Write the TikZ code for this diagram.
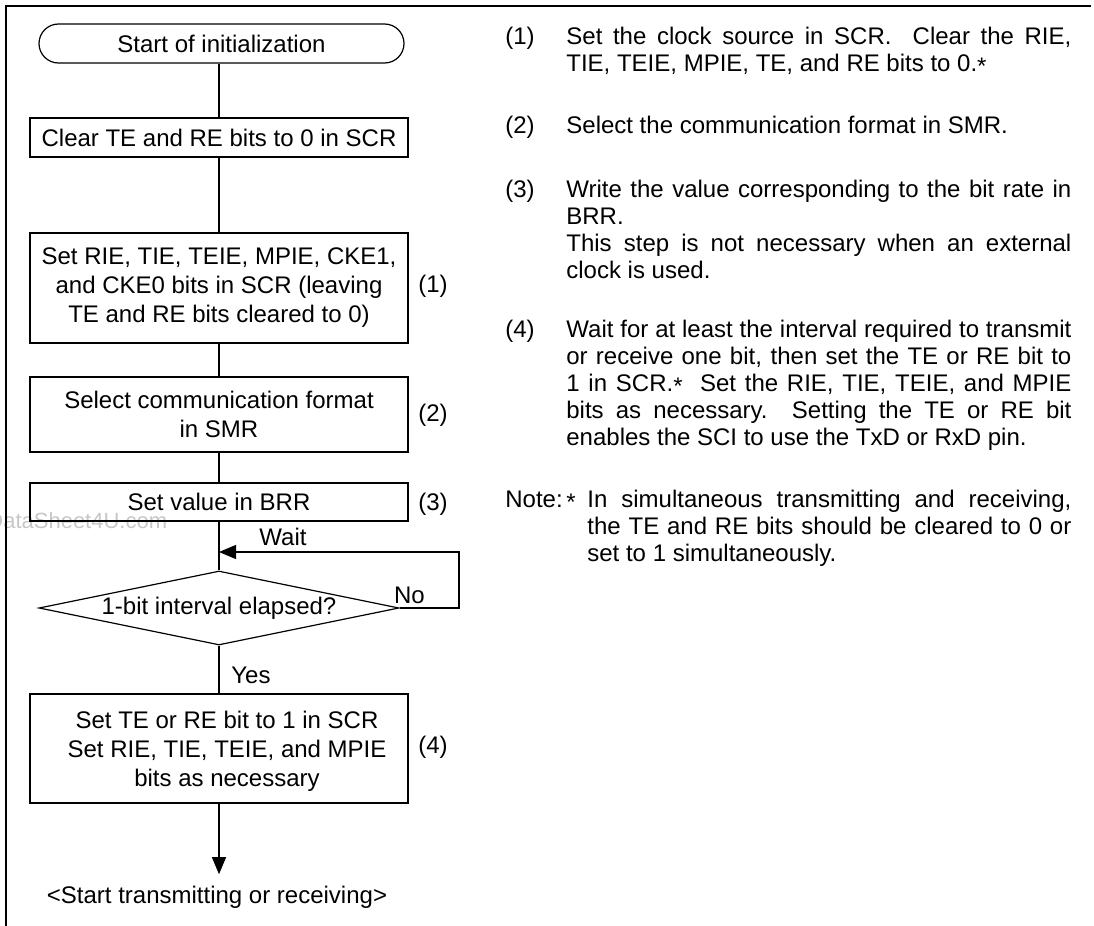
\documentclass[tikz,border=0pt]{standalone}
\usepackage{fontspec}
\setmainfont{Liberation Sans}
\usetikzlibrary{arrows.meta,shapes.geometric,shapes.misc}
\newcommand\fnast{\raisebox{-1.5pt}{*}}
\begin{document}
\begin{tikzpicture}[x=0.5pt,y=-0.5pt,
  every node/.style={font=\fontsize{12pt}{14.5pt}\selectfont},
  conn/.style={line width=0.6pt},
  arr/.style={line width=0.6pt,-{Triangle[length=8.5pt,width=7pt]}},
  stepbox/.style={draw,line width=0.6pt,minimum width=189pt,inner sep=0pt,align=center},
  startbox/.style={draw,line width=0.6pt,rounded rectangle,minimum width=182.5pt,minimum height=19.5pt,inner sep=0pt},
  decbox/.style={draw,line width=0.6pt,diamond,aspect=4.86,minimum width=180pt,minimum height=37pt,inner sep=0pt},
  numlbl/.style={inner sep=0pt},
  para/.style={inner sep=0pt,align=justify,anchor=north west,font=\fontsize{12pt}{13.5pt}\selectfont}
]
\useasboundingbox (0,0) rectangle (1094,926);
% watermark
\node[text=black!22,anchor=base west,inner sep=0pt,font=\fontsize{11pt}{13pt}\selectfont] (wm) at (-13,528) {DataSheet4U.com};
% frame
\draw[line width=1pt] (1091,6) -- (6,6) -- (6,926);

% flowchart
\node[startbox] (start) at (221.5,43.5) {Start of initialization};
\node[stepbox,minimum height=19.5pt] (clear) at (219,137.5) {Clear TE and RE bits to 0 in SCR};
\node[stepbox,minimum height=55pt] (setrie) at (219,288) {Set RIE, TIE, TEIE, MPIE, CKE1,\\and CKE0 bits in SCR (leaving\\TE and RE bits cleared to 0)};
\node[numlbl] (l1) at (433,286) {(1)};
\node[stepbox,minimum height=37.5pt] (select) at (219,414.5) {Select communication format\\in SMR};
\node[numlbl] (l2) at (433,415) {(2)};
\node[stepbox,minimum height=19pt] (brr) at (219,502) {Set value in BRR};
\node[numlbl] (l3) at (433,504) {(3)};
\node[decbox] (dec) at (219,608) {1-bit interval elapsed?};
\node[stepbox,minimum height=54.5pt] (last) at (219,748.5) {};
\node[inner sep=0pt,align=center] (lasttxt) at (227,751) {Set TE or RE bit to 1 in SCR\\Set RIE, TIE, TEIE, and MPIE\\bits as necessary};
\node[numlbl] (l4) at (433,747) {(4)};
\node[anchor=base,inner xsep=0pt,inner ysep=5.5pt] (endtxt) at (217,903) {<Start transmitting or receiving>};

\draw[conn] (start.south -| clear.north) -- (clear.north);
\draw[conn] (clear) -- (setrie);
\draw[conn] (setrie) -- (select);
\draw[conn] (select) -- (brr);
\draw[conn] (brr) -- (dec);
\coordinate (loopc) at (459,552);
\draw[arr] (dec.east) -| (loopc) -- (brr.south |- loopc);
\node[anchor=base] (wait) at (283,545) {Wait};
\node[anchor=base] (no) at (409.5,603) {No};
\draw[conn] (dec) -- (last);
\node[anchor=base] (yes) at (251,683) {Yes};
\draw[arr] (last.south) -- (last.south |- endtxt.north);

% explanations
\node[numlbl,anchor=base west] (r1) at (505,44) {(1)};
\node[para,text width=252.5pt] (p1) at (566,25.1) {\strut Set the clock source in SCR.\ \ Clear the RIE,\linebreak TIE, TEIE, MPIE, TE, and RE bits to 0.\fnast};
\node[numlbl,anchor=base west] (r2) at (505,133) {(2)};
\node[para,text width=252.5pt] (p2) at (566,114.1) {\strut Select the communication format in SMR.};
\node[numlbl,anchor=base west] (r3) at (505,197) {(3)};
\node[para,text width=252.5pt] (p3) at (566,178.1) {\strut Write the value corresponding to the bit rate in\linebreak BRR.\\This step is not necessary when an external\linebreak clock is used.};
\node[numlbl,anchor=base west] (r4) at (505,337) {(4)};
\node[para,text width=252.5pt] (p4) at (566,318.1) {\strut Wait for at least the interval required to transmit\linebreak or receive one bit, then set the TE or RE bit to\linebreak 1 in SCR.\fnast\ \ Set the RIE, TIE, TEIE, and MPIE\linebreak bits as necessary.\ \ Setting the TE or RE bit\linebreak enables the SCI to use the TxD or RxD pin.};
\node[numlbl,anchor=base west] (nt) at (505,507) {Note:};
\node[numlbl,anchor=base west] (ntast) at (566,507) {\fnast};
\node[para,text width=242pt] (p5) at (587,488.1) {\strut In simultaneous transmitting and receiving,\linebreak the TE and RE bits should be cleared to 0 or\linebreak set to 1 simultaneously.};
\end{tikzpicture}
\end{document}
